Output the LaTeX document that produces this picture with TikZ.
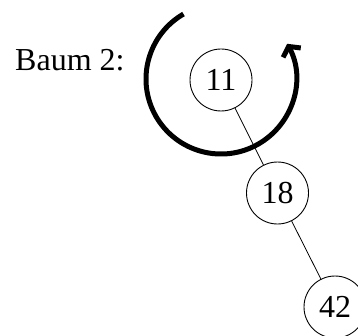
\documentclass[tikz,border=0pt]{standalone}
\usepackage{fontspec}
\setmainfont{Liberation Serif}
\usetikzlibrary{arrows.meta}
\begin{document}
\begin{tikzpicture}[x=1pt,y=1pt,
  knoten/.style={circle,draw,line width=0.9pt,minimum size=62pt,inner sep=0pt,font=\fontsize{32}{38}\selectfont},
  kante/.style={line width=0.8pt},
  dreh/.style={line width=5pt,-{Straight Barb[length=7pt,width=20pt]}}]
\useasboundingbox (0,0) rectangle (358,335);
\node[anchor=base west,inner sep=0pt,font=\fontsize{32}{38}\selectfont] (label) at (15,264) {Baum 2:};
\node[knoten] (n11) at (221,255) {11};
\node[knoten] (n18) at (277.5,142) {18};
\node[knoten] (n42) at (335,28) {42};
\draw[kante] (n11) -- (n18);
\draw[kante] (n18) -- (n42);
\coordinate (c) at (221,256);
\draw[dreh] ([shift={(120:75)}]c) arc[start angle=120,end angle=388,radius=75];
\end{tikzpicture}
\end{document}
